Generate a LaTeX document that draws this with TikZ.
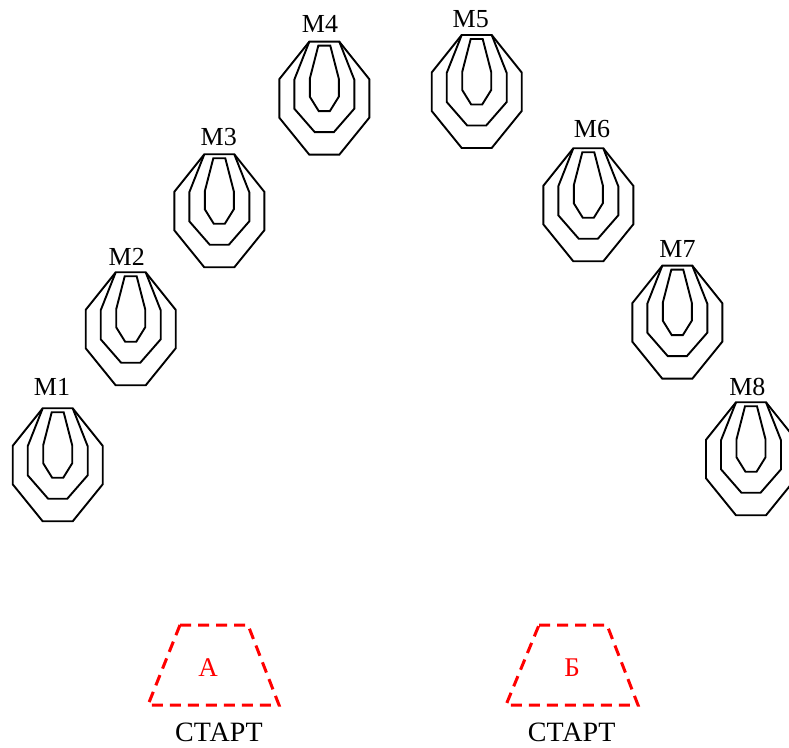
\documentclass[tikz,border=0pt]{standalone}
\usepackage{fontspec}
\setmainfont{Liberation Serif}
\begin{document}
\begin{tikzpicture}[x=1pt,y=1pt,
  tline/.style={line width=1.9pt,black,line join=miter},
  zone/.style={red,line width=3pt,dash pattern=on 11pt off 7pt},
  mlabel/.style={anchor=base,inner sep=0pt,font=\fontsize{26}{30}\selectfont},
  zlabel/.style={anchor=base,inner sep=0pt,text=red,font=\fontsize{27}{32}\selectfont},
  slabel/.style={anchor=base,inner sep=0pt,font=\fontsize{28}{32}\selectfont},
  target/.pic={
    \draw[tline] (-15,0) -- (-45,-37.5) -- (-45,-76) -- (-15,-113) -- (15,-113) -- (45,-76) -- (45,-37.5) -- (15,0) -- cycle;
    \draw[tline] (-15,0) -- (-30,-38) -- (-30,-67) -- (-9.5,-90.5) -- (9.5,-90.5) -- (30,-67) -- (30,-38) -- (15,0);
    \draw[tline] (-6,-4) -- (-14.5,-37) -- (-14.5,-55) -- (-5.5,-69.5) -- (5.5,-69.5) -- (14.5,-55) -- (14.5,-37) -- (6,-4) -- cycle;
  }]
\clip (0,0) rectangle (789,747);
% targets (cx, 747 - top)
\pic at (57.7,338.7) {target};
\pic at (130.7,474.7) {target};
\pic at (219.3,592.7) {target};
\pic at (324.3,705.3) {target};
\pic at (476.7,712) {target};
\pic at (588.3,598.7) {target};
\pic at (677.3,481.3) {target};
\pic at (751,344.7) {target};
% labels
\node[mlabel] (m1) at (52,351) {M1};
\node[mlabel] (m2) at (126.7,481.3) {M2};
\node[mlabel] (m3) at (218.7,601) {M3};
\node[mlabel] (m4) at (320,714.3) {M4};
\node[mlabel] (m5) at (470.8,719.7) {M5};
\node[mlabel] (m6) at (592,609.7) {M6};
\node[mlabel] (m7) at (677.5,489.3) {M7};
\node[mlabel] (m8) at (747.3,351) {M8};
% start zones
\draw[zone] (180,122) -- (248,122) -- (279,42) -- (148,42) -- cycle;
\draw[zone] (539,122) -- (607,122) -- (638,42) -- (506,42) -- cycle;
\node[zlabel] (za) at (208,70.3) {А};
\node[zlabel] (zb) at (572,70.3) {Б};
\node[slabel] (sa) at (219,5.3) {СТАРТ};
\node[slabel] (sb) at (571.7,5.3) {СТАРТ};
\end{tikzpicture}
\end{document}
